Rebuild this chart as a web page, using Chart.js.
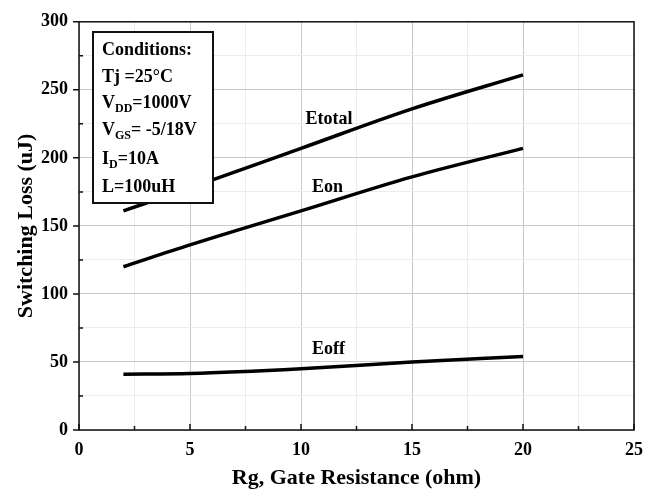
<!DOCTYPE html>
<html>
<head>
<meta charset="utf-8">
<script src="https://cdn.jsdelivr.net/npm/chart.js@4.4.1/dist/chart.umd.min.js"></script>
<style>
  html, body { margin: 0; padding: 0; background: #fff; }
  #wrap { width: 660px; height: 493px; }
</style>
</head>
<body>
<div id="wrap"><canvas id="lossChart" width="660" height="493"></canvas></div>
<script>
// gate resistance (ohm) and switching losses (uJ)
const rg = [2, 5, 10, 15, 20];
const etotal = [161, 178, 207, 236, 261];
const eon = [120, 136, 161, 186, 207];
const eoff = [41, 41.5, 45, 50, 54];

const xTicks = [0, 5, 10, 15, 20, 25];
const yTicks = [0, 50, 100, 150, 200, 250, 300];

// text, subscript, rest
const conditions = [
    ['Conditions:'],
    ['Tj =25\u00B0C'],
    ['V', 'DD', '=1000V'],
    ['V', 'GS', '= -5/18V'],
    ['I', 'D', '=10A'],
    ['L=100uH']
];
const condBaselines = [55, 82, 108, 135, 164, 192];

const serif = '"Liberation Serif", "Times New Roman", serif';

function pts(ys) {
    return rg.map((x, i) => ({ x: x, y: ys[i] }));
}

function lineSet(label, ys) {
    return {
        label: label,
        data: pts(ys),
        borderColor: '#000',
        borderWidth: 3.5,
        pointRadius: 0,
        tension: 0.3,
        cubicInterpolationMode: 'monotone',
        fill: false
    };
}

// frame, tick marks, curve labels and the conditions box
const extras = {
    id: 'extras',
    afterDraw(chart) {
        const ctx = chart.ctx;
        const a = chart.chartArea;
        const xs = chart.scales.x;
        const ys = chart.scales.y;
        ctx.save();

        ctx.strokeStyle = '#111';
        ctx.lineWidth = 1.5;
        ctx.strokeRect(a.left, a.top, a.right - a.left, a.bottom - a.top);

        ctx.beginPath();
        for (let v = 0; v <= 25; v += 2.5) {
            const px = xs.getPixelForValue(v);
            const len = v % 5 === 0 ? 6 : 4;
            ctx.moveTo(px, a.bottom);
            ctx.lineTo(px, a.bottom - len);
        }
        for (let v = 0; v <= 300; v += 25) {
            const py = ys.getPixelForValue(v);
            ctx.moveTo(a.left, py);
            ctx.lineTo(v % 50 === 0 ? a.left - 6 : a.left + 4, py);
        }
        ctx.stroke();

        // curve labels
        ctx.fillStyle = '#000';
        ctx.font = 'bold 18px ' + serif;
        ctx.textAlign = 'left';
        ctx.textBaseline = 'middle';
        ctx.fillText('Etotal', xs.getPixelForValue(10.2), ys.getPixelForValue(228));
        ctx.fillText('Eon', xs.getPixelForValue(10.5), ys.getPixelForValue(178));
        ctx.fillText('Eoff', xs.getPixelForValue(10.5), ys.getPixelForValue(59));

        // conditions box
        const bx = 93, by = 32, bw = 120, bh = 171;
        ctx.fillStyle = '#fff';
        ctx.fillRect(bx, by, bw, bh);
        ctx.strokeStyle = '#111';
        ctx.lineWidth = 2;
        ctx.strokeRect(bx, by, bw, bh);

        ctx.fillStyle = '#000';
        ctx.textBaseline = 'alphabetic';
        conditions.forEach((row, i) => {
            const ty = condBaselines[i];
            let tx = bx + 9;
            ctx.font = 'bold 18px ' + serif;
            ctx.fillText(row[0], tx, ty);
            if (row.length === 3) {
                tx += ctx.measureText(row[0]).width;
                ctx.font = 'bold 12px ' + serif;
                ctx.fillText(row[1], tx, ty + 4);
                tx += ctx.measureText(row[1]).width;
                ctx.font = 'bold 18px ' + serif;
                ctx.fillText(row[2], tx, ty);
            }
        });

        ctx.restore();
    }
};

new Chart(document.getElementById('lossChart'), {
    type: 'line',
    data: {
        datasets: [
            lineSet('Etotal', etotal),
            lineSet('Eon', eon),
            lineSet('Eoff', eoff)
        ]
    },
    options: {
        responsive: false,
        animation: false,
        layout: { padding: { top: 20, right: 26, bottom: 0, left: 0 } },
        plugins: {
            legend: { display: false },
            tooltip: { enabled: false }
        },
        scales: {
            x: {
                type: 'linear',
                min: 0,
                max: 25,
                afterFit(scale) { scale.height = 63; },
                afterBuildTicks(scale) {
                    const t = [];
                    for (let v = 0; v <= 25; v += 2.5) t.push({ value: v });
                    scale.ticks = t;
                },
                border: { display: false },
                grid: {
                    drawTicks: false,
                    lineWidth: 1,
                    color: c => (c.tick && c.tick.value % 5 === 0) ? '#c9c9c9' : '#ececec'
                },
                ticks: {
                    padding: 10,
                    color: '#000',
                    font: { family: serif, size: 18, weight: 'bold' },
                    callback: v => xTicks.includes(v) ? String(v) : ''
                },
                title: {
                    display: true,
                    text: 'Rg, Gate Resistance (ohm)',
                    color: '#000',
                    font: { family: serif, size: 22, weight: 'bold' },
                    padding: { top: 0, bottom: 1 }
                }
            },
            y: {
                min: 0,
                max: 300,
                afterFit(scale) { scale.width = 79; },
                afterBuildTicks(scale) {
                    const t = [];
                    for (let v = 0; v <= 300; v += 25) t.push({ value: v });
                    scale.ticks = t;
                },
                border: { display: false },
                grid: {
                    drawTicks: false,
                    lineWidth: 1,
                    color: c => (c.tick && c.tick.value % 50 === 0) ? '#c9c9c9' : '#ececec'
                },
                ticks: {
                    padding: 11,
                    color: '#000',
                    font: { family: serif, size: 18, weight: 'bold' },
                    callback: v => yTicks.includes(v) ? String(v) : ''
                },
                title: {
                    display: true,
                    text: 'Switching Loss (uJ)',
                    color: '#000',
                    font: { family: serif, size: 22, weight: 'bold' },
                    padding: { top: 13, bottom: 0 }
                }
            }
        }
    },
    plugins: [extras]
});
</script>
</body>
</html>
